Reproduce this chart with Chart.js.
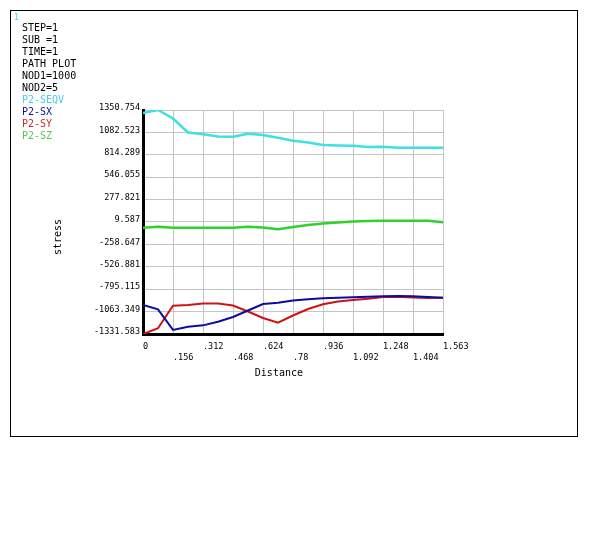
<!DOCTYPE html>
<html><head><meta charset="utf-8">
<script src="https://cdn.jsdelivr.net/npm/chart.js@4/dist/chart.umd.min.js"></script>
<style>html,body{margin:0;padding:0;background:#fff;}#wrap{width:594px;height:547px;}</style>
</head><body><div id="wrap"><canvas id="c" width="594" height="547"></canvas></div>
<script>
// ---- data ----
const distance = [0, 0.0782, 0.1563, 0.2345, 0.3126, 0.3908, 0.4689, 0.5471, 0.6252, 0.7034, 0.7815,
                  0.8597, 0.9378, 1.0160, 1.0941, 1.1723, 1.2504, 1.3286, 1.4067, 1.4849, 1.5630];
const seqv = [1315, 1350.754, 1249, 1081, 1060, 1033, 1031, 1066, 1051, 1019, 983,
              962, 932, 926, 923, 908, 910, 899, 899, 899, 899];
const sx = [-984, -1036, -1283, -1244, -1228, -1184, -1128, -1050, -972, -957, -930,
            -916, -904, -898, -892, -885, -879, -876, -880, -888, -897];
const sy = [-1331.583, -1263, -993, -984, -966, -966, -990, -1062, -1140, -1196, -1110,
            -1032, -976, -942, -924, -909, -888, -885, -894, -900, -897];
const sz = [-59, -47, -59, -59, -59, -59, -59, -48, -56, -78, -50,
            -26, -8, 4, 16, 22, 24, 25, 25, 25, 6];
const seriesLabels = ['P2-SEQV', 'P2-SX', 'P2-SY', 'P2-SZ'];
const yTickLabels = ['-1331.583', '-1063.349', '-795.115', '-526.881', '-258.647', '9.587',
                     '277.821', '546.055', '814.289', '1082.523', '1350.754'];
const xTickLabels = ['0', '.156', '.312', '.468', '.624', '.78', '.936', '1.092', '1.248', '1.404', '1.563'];
const xTickValues = [0, 0.1563, 0.3126, 0.4689, 0.6252, 0.7815, 0.9378, 1.0941, 1.2504, 1.4067, 1.563];
const headerLines = ['STEP=1', 'SUB =1', 'TIME=1', 'PATH PLOT', 'NOD1=1000', 'NOD2=5'];
const plotId = '1';
const xTitle = 'Distance';
const yTitle = 'stress';

// ---- chart ----
const MONO = '"DejaVu Sans Mono", "Liberation Mono", monospace';
const toXY = arr => arr.map((v, i) => ({x: distance[i], y: v}));
const colors = ['#3ee0e4', '#0c0ca0', '#cc1414', '#30d030'];
const legendColors = ['#48d0e8', '#101090', '#cc2a2a', '#50c850'];
const widths = [2.5, 2, 2, 2.5];
const seriesData = [seqv, sx, sy, sz];

const framePlugin = {
  id: 'frame',
  beforeDraw(chart) {
    const c = chart.ctx; c.save();
    c.fillStyle = '#fff'; c.fillRect(0, 0, chart.width, chart.height);
    c.restore();
  },
  afterDraw(chart) {
    const c = chart.ctx; c.save();
    c.strokeStyle = '#000'; c.lineWidth = 1;
    c.strokeRect(10.5, 10.5, 567, 426);
    c.font = '10px ' + MONO; c.textBaseline = 'alphabetic'; c.textAlign = 'left';
    c.fillStyle = '#48d0e8'; c.font = '8px ' + MONO; c.fillText(plotId, 14, 20);
    c.font = '10px ' + MONO;
    c.fillStyle = '#000';
    headerLines.forEach((t, i) => c.fillText(t, 22, 31 + 12 * i));
    chart.data.datasets.forEach((ds, i) => {
      c.fillStyle = legendColors[i];
      c.fillText(ds.label, 22, 31 + 12 * (headerLines.length + i));
    });
    const a = chart.chartArea;
    c.fillStyle = '#000'; c.textAlign = 'center'; c.textBaseline = 'middle';
    c.fillText(xTitle, a.left + (a.right - a.left) * 0.453, 373);
    c.translate(58, 237); c.rotate(-Math.PI / 2);
    c.fillText(yTitle, 0, 0);
    c.restore();
  }
};

new Chart(document.getElementById('c'), {
  type: 'line',
  data: {
    datasets: seriesData.map((d, i) => ({
      label: seriesLabels[i], data: toXY(d), borderColor: colors[i], backgroundColor: colors[i],
      borderWidth: widths[i], pointRadius: 0, tension: 0, fill: false
    }))
  },
  options: {
    responsive: false, animation: false, devicePixelRatio: 1,
    layout: {padding: {left: 40, right: 151, top: 110, bottom: 173}},
    plugins: {legend: {display: false}, tooltip: {enabled: false}},
    scales: {
      x: {
        type: 'linear', min: 0, max: 1.563,
        afterBuildTicks: s => { s.ticks = xTickValues.map(v => ({value: v})); },
        afterFit: s => { s.height = 40; },
        ticks: {
          callback: (v, i) => i % 2 === 0 ? [xTickLabels[i], ''] : ['', xTickLabels[i]],
          align: 'start', maxRotation: 0, autoSkip: false, padding: 7,
          font: {family: MONO, size: 8.5, lineHeight: 1.3}, color: '#000'
        },
        grid: {color: '#c4c4c4', drawTicks: false, lineWidth: 1},
        border: {color: '#000', width: 3}
      },
      y: {
        type: 'linear', min: -1331.583, max: 1350.754,
        afterBuildTicks: s => { s.ticks = yTickLabels.map(t => ({value: parseFloat(t)})); },
        afterFit: s => { s.width = 103; },
        ticks: {
          callback: (v, i) => yTickLabels[i], padding: 3, labelOffset: -2, autoSkip: false,
          font: {family: MONO, size: 8.5}, color: '#000'
        },
        grid: {color: '#c4c4c4', drawTicks: false, lineWidth: 1},
        border: {color: '#000', width: 3}
      }
    }
  },
  plugins: [framePlugin]
});
</script>
</body></html>
